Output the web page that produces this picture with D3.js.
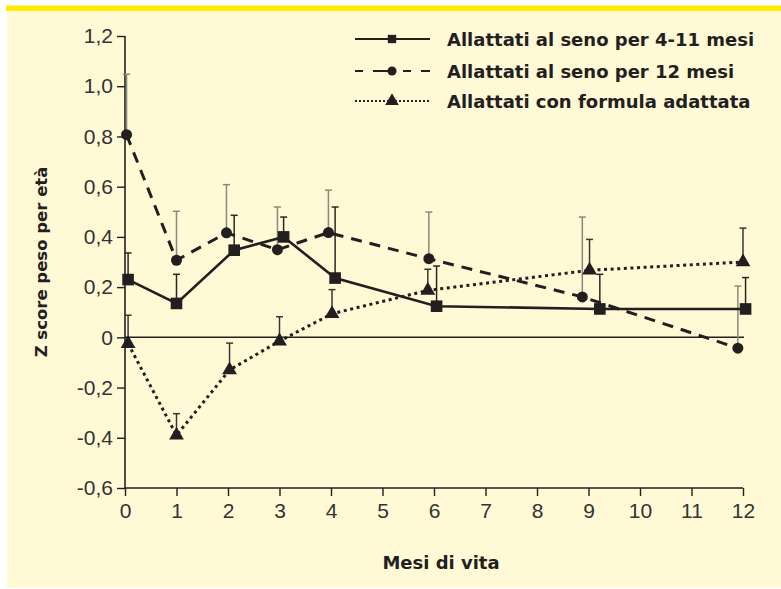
<!DOCTYPE html>
<html>
<head>
<meta charset="utf-8">
<script src="https://cdn.jsdelivr.net/npm/d3@7"></script>
<style>
  html, body { margin: 0; padding: 0; background: #ffffff; }
  svg { display: block; font-family: "DejaVu Sans", "Liberation Sans", Arial, sans-serif; }
</style>
</head>
<body>
<svg id="chart" width="781" height="589"></svg>
<script>
// Months of life (small horizontal offsets keep overlapping markers apart)
const monthsShort = [0.06, 1, 2.12, 3.08, 4.08, 6.05, 9.22, 12.05];
const monthsLong = [0.03, 1, 1.97, 2.96, 3.95, 5.9, 8.88, 11.9];
const monthsFormula = [0.06, 1, 2.03, 3, 4.02, 5.88, 9.02, 12];

// Weight-for-age Z scores (mean) and upper end of error bars
const zShort = [0.23, 0.135, 0.347, 0.40, 0.236, 0.124, 0.113, 0.113];
const upShort = [0.336, 0.251, 0.486, 0.479, 0.519, 0.284, 0.251, 0.238];
const zLong = [0.807, 0.307, 0.416, 0.349, 0.417, 0.313, 0.161, -0.043];
const upLong = [1.048, 0.502, 0.608, 0.519, 0.586, 0.499, 0.479, 0.204];
const zFormula = [-0.025, -0.39, -0.13, -0.015, 0.094, 0.187, 0.267, 0.30];
const upFormula = [0.088, -0.304, -0.023, 0.082, 0.19, 0.271, 0.39, 0.435];

const seriesNames = [
  "Allattati al seno per 4-11 mesi",
  "Allattati al seno per 12 mesi",
  "Allattati con formula adattata"
];
const xTicks = d3.range(0, 13);
const yTicks = [-0.6, -0.4, -0.2, 0, 0.2, 0.4, 0.6, 0.8, 1.0, 1.2];
const xTitle = "Mesi di vita";
const yTitle = "Z score peso per età";

const svg = d3.select("#chart");
const ink = "#231f20";

// panel background and top band
svg.append("rect").attr("x", 7).attr("y", 6).attr("width", 774).attr("height", 582).attr("fill", "#fff9d6");
svg.append("rect").attr("x", 6).attr("y", 5.5).attr("width", 775).attr("height", 5.5).attr("fill", "#ffec00");

const x = d3.scaleLinear().domain([0, 12]).range([125, 743]);
const y = d3.scaleLinear().domain([-0.6, 1.2]).range([488, 36]);

const fmt = v => Math.abs(v) < 1e-9 ? "0" : d3.format(".1f")(v).replace(".", ",").replace("−", "-");

// axes
const yAxis = svg.append("g").attr("transform", `translate(${x(0)},0)`)
  .call(d3.axisLeft(y).tickValues(yTicks).tickFormat(fmt).tickSize(8).tickPadding(4));
const xAxis = svg.append("g").attr("transform", `translate(0,${y(-0.6)})`)
  .call(d3.axisBottom(x).tickValues(xTicks).tickSize(8).tickPadding(7));
[xAxis, yAxis].forEach(g => {
  g.select(".domain").attr("stroke", ink).attr("stroke-width", 1.6);
  g.selectAll(".tick line").attr("stroke", ink).attr("stroke-width", 1.4);
  g.selectAll(".tick text").attr("fill", "#333").style("font-size", "21px")
    .style("font-family", "'Liberation Sans', Arial, sans-serif");
});
yAxis.select(".domain").attr("d", `M0,${y(1.2)}V${y(-0.6)}`);
xAxis.select(".domain").attr("d", `M${x(0)},0H${x(12)}`);

// zero reference line
svg.append("line").attr("x1", x(0)).attr("x2", x(12) + 1).attr("y1", y(0)).attr("y2", y(0))
  .attr("stroke", ink).attr("stroke-width", 1.5);

const series = [
  { name: seriesNames[0], xs: monthsShort, zs: zShort, ups: upShort, dash: null, width: 2.6,
    symbol: d3.symbolSquare, size: 135, bar: "#2a2626" },
  { name: seriesNames[1], xs: monthsLong, zs: zLong, ups: upLong, dash: "11,8", width: 3,
    symbol: d3.symbolCircle, size: 95, bar: "#8c897c" },
  { name: seriesNames[2], xs: monthsFormula, zs: zFormula, ups: upFormula, dash: "3,3.6", width: 3,
    symbol: d3.symbolTriangle, size: 95, bar: "#3a3636" }
];

// error bars (upper whisker only)
series.forEach(s => {
  const g = svg.append("g");
  s.xs.forEach((m, i) => {
    g.append("line").attr("x1", x(m)).attr("x2", x(m)).attr("y1", y(s.zs[i])).attr("y2", y(s.ups[i]))
      .attr("stroke", s.bar).attr("stroke-width", 1.5);
    g.append("line").attr("x1", x(m) - 3.5).attr("x2", x(m) + 3.5).attr("y1", y(s.ups[i])).attr("y2", y(s.ups[i]))
      .attr("stroke", s.bar).attr("stroke-width", 1.5);
  });
});

// connecting lines
series.forEach(s => {
  const pts = s.xs.map((m, i) => [x(m), y(s.zs[i])]);
  svg.append("path").attr("d", d3.line()(pts)).attr("fill", "none")
    .attr("stroke", ink).attr("stroke-width", s.width)
    .attr("stroke-dasharray", s.dash);
});

// markers
series.forEach(s => {
  s.xs.forEach((m, i) => {
    svg.append("path").attr("d", d3.symbol(s.symbol, s.size)())
      .attr("transform", `translate(${x(m)},${y(s.zs[i])})`).attr("fill", ink);
  });
});

// legend
const legendRows = [39, 71, 101];
series.forEach((s, i) => {
  const ly = legendRows[i];
  svg.append("line").attr("x1", 355).attr("x2", 430).attr("y1", ly).attr("y2", ly)
    .attr("stroke", ink).attr("stroke-width", i === 2 ? 2 : 2.2)
    .attr("stroke-dasharray", i === 1 ? "8,10,20,10" : (i === 2 ? "2,2" : null));
  svg.append("path").attr("d", d3.symbol(s.symbol, i === 0 ? 70 : (i === 1 ? 65 : 80))())
    .attr("transform", `translate(392,${ly})`).attr("fill", ink);
  svg.append("text").attr("x", 447).attr("y", ly + 6.5).text(s.name)
    .attr("fill", ink).style("font-size", "18px").style("font-weight", "bold");
});

// axis titles
svg.append("text").attr("x", 441).attr("y", 569).attr("text-anchor", "middle")
  .attr("fill", ink).style("font-size", "18px").style("font-weight", "bold").text(xTitle);
svg.append("text").attr("transform", `translate(47,${(y(1.2) + y(-0.6)) / 2}) rotate(-90)`)
  .attr("text-anchor", "middle").attr("fill", ink)
  .style("font-size", "16.5px").style("font-weight", "bold").text(yTitle);
</script>
</body>
</html>
